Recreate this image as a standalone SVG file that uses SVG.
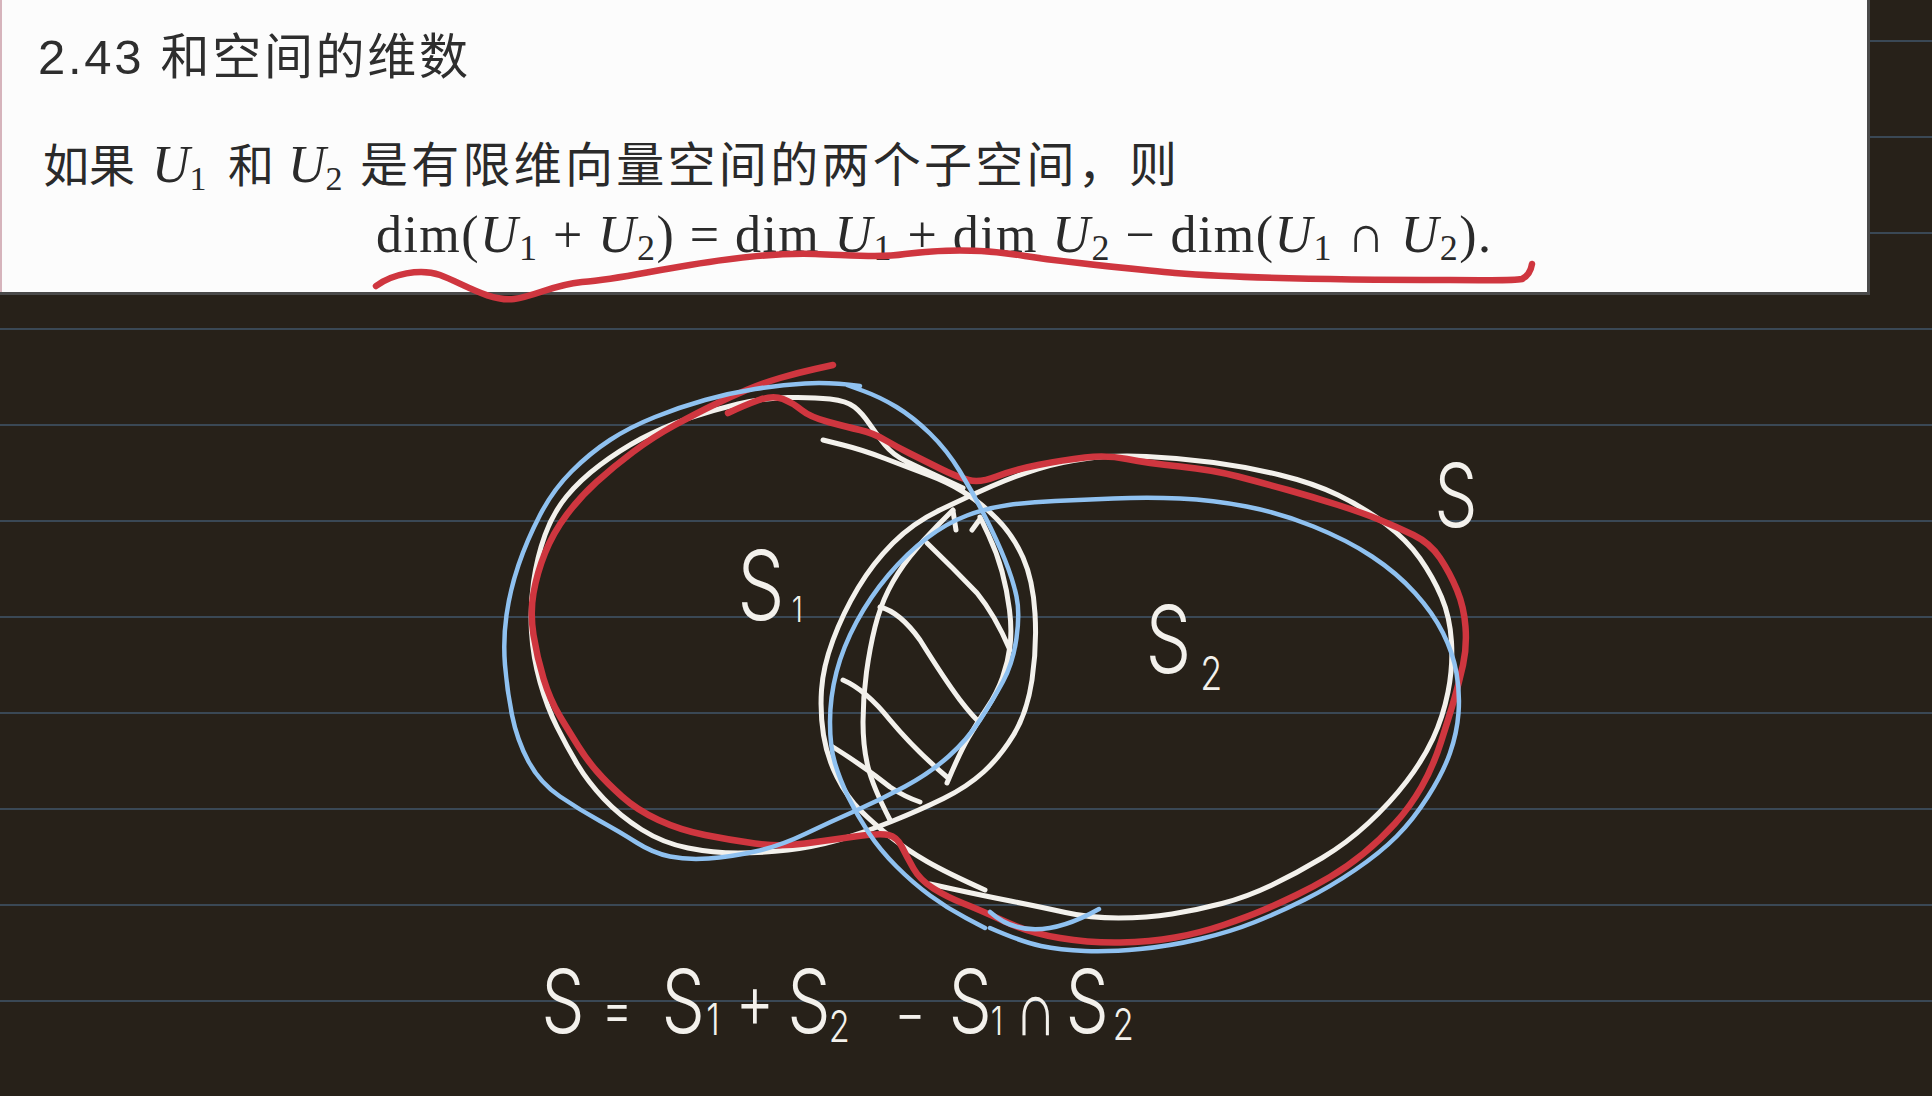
<svg xmlns="http://www.w3.org/2000/svg" width="1932" height="1096" viewBox="0 0 1932 1096">
<defs>
<style>
.bg{fill:#272119}
.rule{stroke:#3a4855;stroke-width:2}
.ink{fill:none;stroke-linecap:round;stroke-linejoin:round}
.w{stroke:#f3f1ec;stroke-width:5}
.b{stroke:#8fc1f0;stroke-width:4.5}
.r{stroke:#cf363f;stroke-width:6.5}
.hand{font-family:Inter,"DejaVu Sans","Liberation Sans",sans-serif;font-weight:300;fill:#f3f1ec}
.sans{font-family:"Liberation Sans","Noto Sans CJK SC",sans-serif;fill:#2e2e2e}
.serif{font-family:"Liberation Serif","Noto Sans CJK SC",serif;fill:#2a2a2a}
.it{font-style:italic}
.sub{font-size:36px}
</style>
</defs>

<g id="background">
<rect class="bg" x="0" y="0" width="1932" height="1096"/>
<g id="rules">
<line class="rule" x1="1870" y1="41" x2="1932" y2="41"/>
<line class="rule" x1="1870" y1="137" x2="1932" y2="137"/>
<line class="rule" x1="1870" y1="233" x2="1932" y2="233"/>
<line class="rule" x1="0" y1="329" x2="1932" y2="329"/>
<line class="rule" x1="0" y1="425" x2="1932" y2="425"/>
<line class="rule" x1="0" y1="521" x2="1932" y2="521"/>
<line class="rule" x1="0" y1="617" x2="1932" y2="617"/>
<line class="rule" x1="0" y1="713" x2="1932" y2="713"/>
<line class="rule" x1="0" y1="809" x2="1932" y2="809"/>
<line class="rule" x1="0" y1="905" x2="1932" y2="905"/>
<line class="rule" x1="0" y1="1001" x2="1932" y2="1001"/>
</g>
</g>

<g id="page">
<rect x="0" y="0" width="1867" height="292" fill="#fcfcfc"/>
<line x1="1868.5" y1="0" x2="1868.5" y2="294" stroke="#4a4a4a" stroke-width="3"/>
<line x1="0" y1="293.5" x2="1870" y2="293.5" stroke="#4a4a4a" stroke-width="3"/>
<line x1="1" y1="0" x2="1" y2="292" stroke="#d6b4bc" stroke-width="2"/>
</g>

<g id="title">
<text class="sans" x="38" y="74" font-size="49" textLength="430" lengthAdjust="spacing">2.43 和空间的维数</text>
</g>

<g id="statement" class="serif">
<text x="43" y="182" font-size="46">如果</text>
<text x="152" y="182" font-size="52"><tspan class="it">U</tspan><tspan font-size="34" dy="8">1</tspan></text>
<text x="228" y="182" font-size="46">和</text>
<text x="288" y="182" font-size="52"><tspan class="it">U</tspan><tspan font-size="34" dy="8">2</tspan></text>
<text x="360" y="182" font-size="48" textLength="817" lengthAdjust="spacing">是有限维向量空间的两个子空间，则</text>
</g>

<g id="formula" class="serif">
<text x="376" y="252" font-size="52" textLength="1115" lengthAdjust="spacing">dim(<tspan class="it">U</tspan><tspan class="sub" dy="8">1</tspan><tspan dy="-8"> + </tspan><tspan class="it">U</tspan><tspan class="sub" dy="8">2</tspan><tspan dy="-8">) = dim </tspan><tspan class="it">U</tspan><tspan class="sub" dy="8">1</tspan><tspan dy="-8"> + dim </tspan><tspan class="it">U</tspan><tspan class="sub" dy="8">2</tspan><tspan dy="-8"> − dim(</tspan><tspan class="it">U</tspan><tspan class="sub" dy="8">1</tspan><tspan dy="-8"> ∩ </tspan><tspan class="it">U</tspan><tspan class="sub" dy="8">2</tspan><tspan dy="-8">).</tspan></text>
</g>

<g id="underline">
<path class="ink r" d="M376,286 C392,274 420,268 440,275 C462,283 490,302 514,299 C536,296 552,285 582,282 C620,279 645,272 690,265 C740,257 775,253 815,254 C850,255 880,258 905,254 C945,249 985,249 1025,256 C1070,263 1115,267 1175,273 C1250,279 1350,280 1450,280 C1490,280 1512,281 1522,279 C1528,276 1531,270 1532,264"/>
</g>

<g id="sketch">
<g id="circle-S1-white">
<path class="ink w" d="M823,440 L843,445 Q863,450 885,458.5 Q907,467 927,474.5 Q947,482 963.5,492 Q980,502 996.5,518.5 Q1013,535 1023,557.5 Q1033,580 1035,613.5 Q1037,647 1032,680 Q1027,713 1013.5,735 Q1000,757 983.5,772 Q967,787 943.5,798.5 Q920,810 891.5,821.5 Q863,833 838,840 Q813,847 788,850 Q763,853 738,853 Q713,853 688,848 Q663,843 641.5,829.5 Q620,816 604,799 Q588,782 577.5,764.5 Q567,747 557,727 Q547,707 540,682 Q533,657 531.5,632 Q530,607 533.5,582 Q537,557 545,535 Q553,513 566.5,496.5 Q580,480 600,465 Q620,450 641.5,438.5 Q663,427 688,418.5 Q713,410 738,404 Q763,398 788,397.5 Q813,397 830,399 Q847,401 854.5,407 Q862,413 869.5,424 Q877,435 885,445 Q893,455 906.5,461.5 Q920,468 963,488"/>
</g>
<g id="circle-S2-white">
<path class="ink w" d="M930,884 L955,889.5 Q980,895 1010.5,901 Q1041,907 1065.5,912.5 Q1090,918 1118.5,918 Q1147,918 1172,914 Q1197,910 1222,903.5 Q1247,897 1272,885 Q1297,873 1322,858 Q1347,843 1368.5,823 Q1390,803 1406.5,781.5 Q1423,760 1433,738.5 Q1443,717 1448,692 Q1453,667 1451.5,642 Q1450,617 1441.5,597 Q1433,577 1420,558.5 Q1407,540 1385,523.5 Q1363,507 1338,495 Q1313,483 1280,475 Q1247,467 1213.5,462.5 Q1180,458 1146.5,456.5 Q1113,455 1086.5,458.5 Q1060,462 1037.5,469 Q1015,476 991,486.5 Q967,497 940,510 Q913,523 893,543 Q873,563 858,588 Q843,613 833,640 Q823,667 821.5,690 Q820,713 823.5,735 Q827,757 837,777 Q847,797 860,810 Q873,823 890,836.5 Q907,850 927,861.5 Q947,873 985,890"/>
</g>
<g id="intersection-hatch">
<path class="ink w" d="M980,517 L988.5,535 Q997,553 1002,571.5 Q1007,590 1009.5,610 Q1012,630 1010,646 Q1008,662 1002.5,677.5 Q997,693 987,708 Q977,723 968.5,737.5 Q960,752 947,783"/>
<path class="ink w" d="M953,510 L938,525 Q923,540 910,556.5 Q897,573 888.5,590 Q880,607 875,627 Q870,647 866.5,672 Q863,697 863,722 Q863,747 868,767 Q873,787 890,820"/>
<path class="ink w" d="M927,543 Q953,568 977,593 Q995,615 1010,650"/>
<path class="ink w" d="M880,607 Q900,612 920,640 Q945,680 960,700 Q970,713 977,720"/>
<path class="ink w" d="M843,680 Q866,690 890,720 Q915,750 947,777"/>
<path class="ink w" d="M833,747 Q865,767 890,787 Q905,797 920,802"/>
<path class="ink w" d="M953,511 L956,530 M972,530 L980,519"/>
</g>
<g id="union-S-red">
<path class="ink r" d="M833,365 L815,369 Q797,373 780,378 Q763,383 746.5,390 Q730,397 713.5,405 Q697,413 675,425 Q653,437 633,452 Q613,467 596.5,482 Q580,497 566.5,515 Q553,533 545,553 Q537,573 533.5,593 Q530,613 533.5,635 Q537,657 543.5,678.5 Q550,700 560,716.5 Q570,733 578.5,746.5 Q587,760 597,771.5 Q607,783 622,796.5 Q637,810 658.5,820 Q680,830 705,835 Q730,840 755,843.5 Q780,847 805,843.5 Q830,840 855,836.5 Q880,833 888.5,835 Q897,837 902,847 Q907,857 913.5,868.5 Q920,880 933.5,888.5 Q947,897 963.5,903.5 Q980,910 1005,921.5 Q1030,933 1060,938 Q1090,943 1120,942.5 Q1150,942 1175,937.5 Q1200,933 1223.5,925 Q1247,917 1263.5,910 Q1280,903 1296.5,895 Q1313,887 1330,877 Q1347,867 1363.5,853.5 Q1380,840 1395,823.5 Q1410,807 1421.5,787 Q1433,767 1441,742 Q1449,717 1454,700 Q1459,683 1463,665 Q1467,647 1465.5,627 Q1464,607 1457,590 Q1450,573 1440,558 Q1430,543 1413.5,535 Q1397,527 1380,520 Q1363,513 1338,505 Q1313,497 1288,490 Q1263,483 1238,476.5 Q1213,470 1180,466.5 Q1147,463 1127,459 Q1107,455 1085,457.5 Q1063,460 1038,465 Q1013,470 996.5,476.5 Q980,483 968.5,480 Q957,477 940,468.5 Q923,460 910,453.5 Q897,447 885,440 Q873,433 860,430 Q847,427 828.5,422 Q810,417 801.5,410 Q793,403 783,399 Q773,395 759,400 Q745,405 728,413"/>
</g>
<g id="circle-S1-blue">
<path class="ink b" d="M847,385 L863.5,391 Q880,397 896.5,407 Q913,417 930,433.5 Q947,450 960,471.5 Q973,493 985,516.5 Q997,540 1005,560 Q1013,580 1016.5,596.5 Q1020,613 1016.5,638 Q1013,663 1003,681.5 Q993,700 980,720 Q967,740 948.5,756.5 Q930,773 905,786.5 Q880,800 855,811 Q830,822 805,834 Q780,846 755,851.5 Q730,857 708.5,858.5 Q687,860 670,856.5 Q653,853 636.5,842.5 Q620,832 600,821 Q580,810 560,796.5 Q540,783 528.5,761.5 Q517,740 512,715 Q507,690 505,665 Q503,640 506.5,615 Q510,590 518.5,565 Q527,540 540,515 Q553,490 571.5,471.5 Q590,453 610,440 Q630,427 655,417 Q680,407 705,400 Q730,393 755,389 Q780,385 805,383.5 Q830,382 860,386"/>
</g>
<g id="circle-S2-blue">
<path class="ink b" d="M985,928 L966,918 Q947,908 930,895.5 Q913,883 896.5,866.5 Q880,850 868.5,832.5 Q857,815 848.5,797.5 Q840,780 835,763.5 Q830,747 830,722 Q830,697 836.5,672 Q843,647 856.5,622 Q870,597 888.5,575 Q907,553 927,538 Q947,523 967,515.5 Q987,508 1008.5,505 Q1030,502 1055,501 Q1080,500 1113.5,498.5 Q1147,497 1180,498.5 Q1213,500 1246.5,506.5 Q1280,513 1313.5,526.5 Q1347,540 1372,556.5 Q1397,573 1415,593 Q1433,613 1443,633 Q1453,653 1456.5,673 Q1460,693 1458.5,713 Q1457,733 1450,753 Q1443,773 1428,796.5 Q1413,820 1396.5,836.5 Q1380,853 1355,870 Q1330,887 1305,899.5 Q1280,912 1255,922 Q1230,932 1200,939 Q1170,946 1140,949 Q1110,952 1085,951 Q1060,950 1041,946 Q1022,942 990,928"/>
<path class="ink b" d="M990,912 Q1030,948 1099,909"/>
</g>
</g>

<g id="labels" class="hand" text-anchor="middle">
<text id="label-S1" transform="scale(0.78,1)" font-size="96"><tspan x="975.6" y="620">S</tspan><tspan x="1022" y="622" font-size="36">1</tspan></text>
<text id="label-S2" transform="scale(0.78,1)" font-size="93"><tspan x="1498" y="673">S</tspan><tspan x="1553" y="690" font-size="46">2</tspan></text>
<text id="label-S" transform="scale(0.78,1)" font-size="88"><tspan x="1866.7" y="527">S</tspan></text>
<text id="handwritten-formula" transform="scale(0.78,1)" font-size="88"><tspan x="721.8" y="1033">S</tspan><tspan x="791" y="1030" font-size="60">=</tspan><tspan x="876" y="1033">S</tspan><tspan x="914" y="1035" font-size="44">1</tspan><tspan x="967.9" y="1028" font-size="76">+</tspan><tspan x="1037" y="1033">S</tspan><tspan x="1076" y="1042" font-size="44">2</tspan><tspan x="1166.7" y="1034" font-size="60">−</tspan><tspan x="1244" y="1033">S</tspan><tspan x="1278" y="1035" font-size="40">1</tspan><tspan x="1328" y="1035" font-size="76">∩</tspan><tspan x="1394" y="1033">S</tspan><tspan x="1440" y="1040" font-size="44">2</tspan></text>
</g>
</svg>
